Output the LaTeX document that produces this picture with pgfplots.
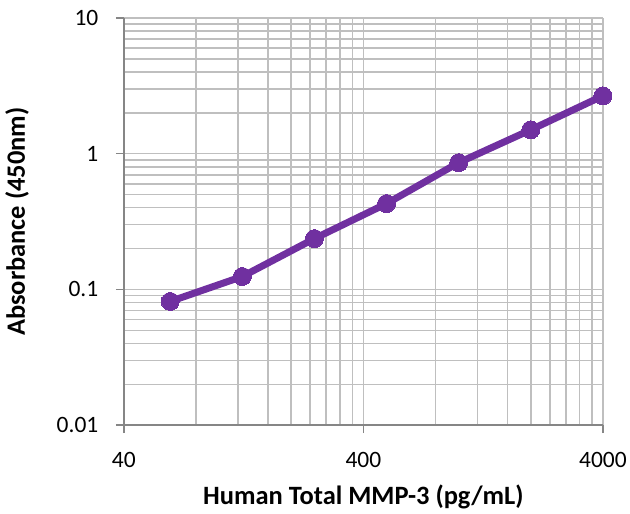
\documentclass[border=0pt]{standalone}
\usepackage{pgfplots}
\pgfplotsset{compat=1.18}
\usepackage{fontspec}
\setmainfont{Carlito}
\definecolor{mpurple}{RGB}{112,48,160}
\definecolor{gridc}{RGB}{191,191,191}
\definecolor{axc}{RGB}{134,134,134}
\begin{document}
\begin{tikzpicture}
\begin{axis}[
  scale only axis,
  width=480pt, height=408pt,
  xmode=log, ymode=log,
  xmin=40, xmax=4000, ymin=0.01, ymax=10,
  axis x line*=bottom, axis y line*=left,
  axis line style={axc, line width=1.5pt},
  xtick={40,400,4000}, xticklabels={40,400,4000},
  ytick={0.01,0.1,1,10}, yticklabels={0.01,0.1,1,10},
  minor xtick={80,120,160,200,240,280,320,360,800,1200,1600,2000,2400,2800,3200,3600},
  minor ytick={0.02,0.03,0.04,0.05,0.06,0.07,0.08,0.09,0.2,0.3,0.4,0.5,0.6,0.7,0.8,0.9,2,3,4,5,6,7,8,9},
  grid=both,
  major grid style={gridc, line width=1.5pt},
  minor grid style={gridc, line width=1.5pt},
  tick align=outside,
  major tick length=8pt, minor tick length=0pt,
  tick style={axc, line width=1.5pt},
  /pgf/number format/assume math mode=true,
  ticklabel style={font=\fontsize{23.5}{26}\selectfont, text=black},
  xticklabel style={yshift=-16pt},
  yticklabel style={xshift=-14pt},
  xlabel={\textbf{Human Total MMP-3 (pg/mL)}},
  ylabel={\textbf{Absorbance (450nm)}},
  label style={font=\fontsize{26.5}{30}\selectfont},
  xlabel style={at={(axis description cs:0.5,0)}, anchor=center, yshift=-72pt},
  ylabel style={at={(axis description cs:0,0.5)}, anchor=center, yshift=107pt},
  clip=false,
]
\addplot[mpurple, line width=7pt, mark=*, mark size=9pt, mark options={fill=mpurple, draw=mpurple, line width=0pt}] coordinates {
(62.5,0.0816) (125,0.1246) (250,0.237) (500,0.429) (1000,0.859) (2000,1.50) (4000,2.67)
};
\end{axis}
\path[use as bounding box] (-124pt,-88pt) rectangle (506pt,426pt);
\end{tikzpicture}
\end{document}
